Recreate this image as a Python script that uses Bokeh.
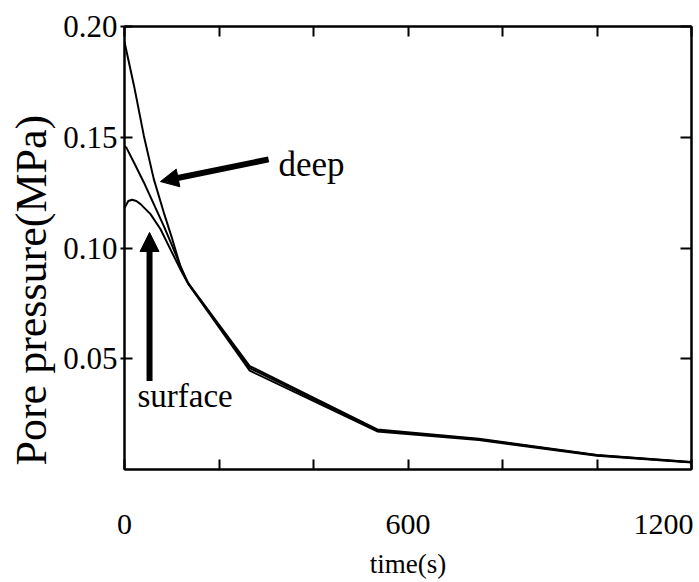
from bokeh.plotting import figure
from bokeh.models import (LinearAxis, Range1d, Label, Arrow, NormalHead, Title,
                          FixedTicker, NumeralTickFormatter, CustomJSTickFormatter)
from bokeh.embed import file_html
from bokeh.resources import INLINE

# ---- data ----
t_deep = [0, 20, 41, 62, 83, 101, 122, 135, 265, 535, 750, 1000, 1200]
p_deep = [0.193, 0.1734, 0.1506, 0.1311, 0.1161, 0.1041, 0.0890, 0.0840,
          0.0467, 0.0181, 0.0139, 0.0066, 0.0034]

t_mid = [0, 4, 20, 41, 62, 83, 101, 118, 135, 265, 535, 750, 1000, 1200]
p_mid = [0.146, 0.1453, 0.1386, 0.1296, 0.1198, 0.1100, 0.1010, 0.0920,
         0.0840, 0.0458, 0.0176, 0.0136, 0.0064, 0.0033]

t_surf = [0, 8, 16, 25, 34, 55, 76, 97, 118, 135, 265, 535, 750, 1000, 1200]
p_surf = [0.118, 0.1212, 0.1218, 0.1212, 0.1198, 0.1153, 0.1086, 0.0995,
          0.0905, 0.0838, 0.0446, 0.0172, 0.0133, 0.0062, 0.0032]

x_ticks = [0, 200, 400, 600, 800, 1000, 1200]
x_label_vals = [0, 600, 1200]
x_label_text = ["0", "600", "1200"]
y_ticks = [0.05, 0.10, 0.15, 0.20]

FONT = "Liberation Serif"

p = figure(width=693, height=582, x_range=Range1d(0, 1200), y_range=Range1d(0, 0.2),
           output_backend="svg", toolbar_location=None,
           min_border_left=124, min_border_right=2, min_border_top=26,
           min_border_bottom=113)
p.xgrid.visible = False
p.ygrid.visible = False
p.outline_line_color = "black"
p.outline_line_width = 2
p.background_fill_color = "white"
p.border_fill_color = "white"

blank = CustomJSTickFormatter(code="return ''")
xfmt = CustomJSTickFormatter(args=dict(vals=x_label_vals, texts=x_label_text), code="""
    const i = vals.indexOf(tick);
    return (i < 0) ? '' : texts[i];
""")

xa = p.xaxis[0]
xa.ticker = FixedTicker(ticks=x_ticks)
xa.formatter = xfmt
xa.major_tick_in = 10
xa.major_tick_out = 0
xa.minor_tick_line_color = None
xa.axis_line_width = 2
xa.major_tick_line_width = 2
xa.major_label_standoff = 45
xa.major_label_text_font = FONT
xa.major_label_text_font_size = "30px"
xa.major_label_text_color = "black"
xa.axis_label = "time(s)"
xa.axis_label_standoff = 12
xa.axis_label_text_font = FONT
xa.axis_label_text_font_size = "27px"
xa.axis_label_text_font_style = "normal"
xa.axis_label_text_color = "black"

ya = p.yaxis[0]
ya.ticker = FixedTicker(ticks=y_ticks)
ya.formatter = NumeralTickFormatter(format="0.00")
ya.major_tick_in = 8
ya.major_tick_out = 4
ya.minor_tick_line_color = None
ya.axis_line_width = 2
ya.major_tick_line_width = 2
ya.major_label_standoff = 3
ya.major_label_text_font = FONT
ya.major_label_text_font_size = "31px"
ya.major_label_text_color = "black"

top = LinearAxis(ticker=FixedTicker(ticks=x_ticks), formatter=blank,
                 major_tick_in=10, major_tick_out=0, minor_tick_line_color=None,
                 axis_line_width=2, major_tick_line_width=2, major_label_standoff=0)
p.add_layout(top, "above")
right = LinearAxis(ticker=FixedTicker(ticks=y_ticks), formatter=blank,
                   major_tick_in=11, major_tick_out=0, minor_tick_line_color=None,
                   axis_line_width=2, major_tick_line_width=2, major_label_standoff=0)
p.add_layout(right, "right")

# y axis title, placed like the reference (starts near the bottom of the frame)
p.add_layout(Title(text="Pore pressure(MPa)", align="left", offset=4, standoff=8,
                   vertical_align="middle",
                   text_font=FONT, text_font_size="44px", text_font_style="normal",
                   text_color="black"), "left")

# curves
for t, v in [(t_deep, p_deep), (t_mid, p_mid), (t_surf, p_surf)]:
    p.line(t, v, line_color="black", line_width=2)

# annotations
p.add_layout(Arrow(end=NormalHead(size=18, fill_color="black", line_color="black"),
                   x_start=305, y_start=0.140, x_end=76, y_end=0.130,
                   line_width=6, line_color="black"))
p.add_layout(Arrow(end=NormalHead(size=19, fill_color="black", line_color="black"),
                   x_start=53, y_start=0.040, x_end=53, y_end=0.107,
                   line_width=6, line_color="black"))
p.add_layout(Label(x=326, y=0.1376, text="deep", text_align="left",
                   text_baseline="alphabetic", text_font=FONT,
                   text_font_size="35px", text_color="black"))
p.add_layout(Label(x=27.5, y=0.0333, text="surface", text_align="left",
                   text_baseline="alphabetic", text_font=FONT,
                   text_font_size="33px", text_color="black"))

open("out.html", "w").write(file_html(p, INLINE))
